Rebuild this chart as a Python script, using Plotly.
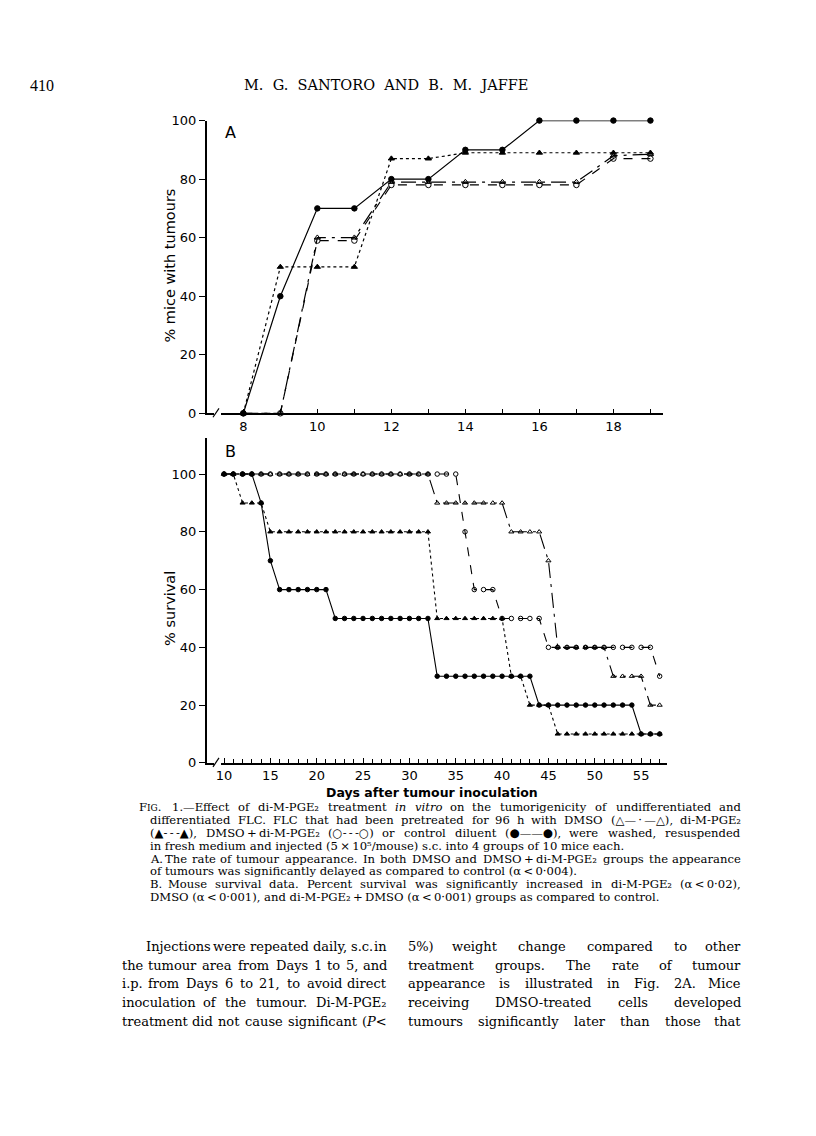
import re
import plotly.graph_objects as go

# screenshot is W x H; the page body adds an 8px margin, so the figure is 16px smaller
W, H = 816, 1136
M = 8

# ---- Panel A: % mice with tumours ----
days_a = [8, 9, 10, 11, 12, 13, 14, 15, 16, 17, 18, 19]
a_control = [0, 40, 70, 70, 80, 80, 90, 90, 100, 100, 100, 100]
a_pge = [0, 50, 50, 50, 87, 87, 89, 89, 89, 89, 89, 89]
a_dmso = [0, 0, 60, 60, 79, 79, 79, 79, 79, 79, 88, 88.5]
a_dmso_pge = [0, 0, 59, 59, 78, 78, 78, 78, 78, 78, 87, 87]
a_xticks = [8, 10, 12, 14, 16, 18]

# ---- Panel B: % survival ----
days_b = [10, 11, 12, 13, 14, 15, 16, 17, 18, 19, 20, 21, 22, 23, 24, 25,
          26, 27, 28, 29, 30, 31, 32, 33, 34, 35, 36, 37, 38, 39, 40, 41,
          42, 43, 44, 45, 46, 47, 48, 49, 50, 51, 52, 53, 54, 55, 56, 57]
b_control = [100, 100, 100, 100, 90, 70, 60, 60, 60, 60, 60, 60,
             50, 50, 50, 50, 50, 50, 50, 50, 50, 50, 50,
             30, 30, 30, 30, 30, 30, 30, 30, 30, 30, 30,
             20, 20, 20, 20, 20, 20, 20, 20, 20, 20, 20,
             10, 10, 10]
b_pge = [100, 100, 90, 90, 90,
         80, 80, 80, 80, 80, 80, 80, 80, 80, 80, 80, 80, 80, 80, 80, 80, 80, 80,
         50, 50, 50, 50, 50, 50, 50, 50,
         30, 30, 20, 20, 20,
         10, 10, 10, 10, 10, 10, 10, 10, 10, 10, 10, 10]
b_dmso = [100, 100, 100, 100, 100, 100, 100, 100, 100, 100, 100, 100,
          100, 100, 100, 100, 100, 100, 100, 100, 100, 100, 100,
          90, 90, 90, 90, 90, 90, 90, 90,
          80, 80, 80, 80, 70,
          40, 40, 40, 40, 40, 40,
          30, 30, 30, 30, 20, 20]
b_dmso_pge = [100, 100, 100, 100, 100, 100, 100, 100, 100, 100, 100, 100, 100,
              100, 100, 100, 100, 100, 100, 100, 100, 100, 100, 100, 100, 100,
              80, 60, 60, 60, 50, 50, 50, 50, 50,
              40, 40, 40, 40, 40, 40, 40, 40, 40, 40, 40, 40, 30]
b_xticks = [10, 15, 20, 25, 30, 35, 40, 45, 50, 55]
y_ticks = [0, 20, 40, 60, 80, 100]

SANS = "DejaVu Sans"
SERIF = "DejaVu Serif"


def px(x):
    return (x - M) / (W - 2 * M)


def py(y):
    return 1 - (y - M) / (H - 2 * M)


series = [
    # name, dash, symbol
    ("DMSO + di-M-PGE2", "dash", "circle-open"),
    ("DMSO", "longdashdot", "triangle-up-open"),
    ("di-M-PGE2", "dot", "triangle-up"),
    ("Control", "solid", "circle"),
]

fig = go.Figure()

for (name, dash, sym), ya in zip(series, [a_dmso_pge, a_dmso, a_pge, a_control]):
    fig.add_trace(go.Scatter(
        x=days_a, y=ya, mode="lines+markers", name=name,
        line=dict(color="black", width=1.2, dash=dash),
        marker=dict(symbol=sym, size=5.5, color="black", line=dict(color="black", width=1)),
        xaxis="x", yaxis="y", cliponaxis=False, showlegend=False))

for (name, dash, sym), yb in zip(series, [b_dmso_pge, b_dmso, b_pge, b_control]):
    fig.add_trace(go.Scatter(
        x=days_b, y=yb, mode="lines+markers", name=name,
        line=dict(color="black", width=1.1, dash=dash),
        marker=dict(symbol=sym, size=4.5, color="black", line=dict(color="black", width=1)),
        xaxis="x2", yaxis="y2", cliponaxis=False, showlegend=False))

axis_common = dict(showgrid=False, zeroline=False, showline=True, linecolor="black",
                   linewidth=1.5, tickcolor="black", tickwidth=1.2,
                   tickfont=dict(family=SANS, size=13, color="black"))

fig.update_layout(
    width=W - 2 * M, height=H - 2 * M,
    margin=dict(l=0, r=0, t=0, b=0),
    paper_bgcolor="white", plot_bgcolor="white",
    xaxis=dict(domain=[px(206.7), px(663)], range=[7.01, 19.34], anchor="y",
               tickmode="array", tickvals=a_xticks, ticks="inside", ticklen=5,
               minor=dict(dtick=1, tick0=8, ticks="inside", ticklen=5,
                          tickcolor="black", tickwidth=1.2),
               **axis_common),
    yaxis=dict(domain=[py(411.7), py(115)], range=[0, 100], anchor="x",
               tickmode="array", tickvals=y_ticks, ticks="outside", ticklen=6,
               **axis_common),
    xaxis2=dict(domain=[px(206.7), px(666.7)], range=[8.13, 57.76], anchor="y2",
                tickmode="array", tickvals=b_xticks, ticks="inside", ticklen=5,
                minor=dict(dtick=1, tick0=10, ticks="inside", ticklen=4,
                           tickcolor="black", tickwidth=1.1),
                **axis_common),
    yaxis2=dict(domain=[py(766), py(436.7)], range=[0, 112.5], anchor="x2",
                tickmode="array", tickvals=y_ticks, ticks="outside", ticklen=6,
                **axis_common),
)

# axis breaks on the x axes
for y0 in (411.7, 766):
    fig.add_shape(type="rect", xref="paper", yref="paper",
                  x0=px(214), x1=px(221), y0=py(y0 + 6), y1=py(y0 - 6),
                  line=dict(width=0), fillcolor="white", layer="above")
    fig.add_shape(type="line", xref="paper", yref="paper",
                  x0=px(213), x1=px(219), y0=py(y0 + 4), y1=py(y0 - 5),
                  line=dict(color="black", width=1.2), layer="above")

ann = []


def text(x, y, s, size, family=SERIF, anchor="left", angle=0):
    ann.append(dict(x=px(x), y=py(y), xref="paper", yref="paper", text=s,
                    showarrow=False, xanchor=anchor, yanchor="middle",
                    textangle=angle, font=dict(family=family, size=size, color="black")))


# rough DejaVu Serif advance widths (em) used to spread words across a column
CW = dict(zip("abcdefghijklmnopqrstuvwxyz",
              [.596, .640, .560, .640, .592, .370, .640, .644, .320, .310, .606, .320, .948,
               .644, .602, .640, .640, .478, .513, .402, .644, .565, .856, .564, .565, .523]))
CW.update(zip("ABCDEFGHIJKLMNOPQRSTUVWXYZ",
              [.722, .735, .765, .802, .730, .694, .799, .872, .395, .401, .747, .664, 1.024,
               .875, .820, .673, .820, .753, .685, .667, .843, .722, 1.028, .712, .660, .695]))
CW.update({c: .636 for c in "0123456789"})
CW.update({" ": .318, ".": .318, ",": .318, ":": .337, ";": .337, "-": .338, "(": .390,
           ")": .390, "—": 1.0, "%": .950, "/": .337, "·": .318, "\u2009": .2, "<": .838,
           "₂": .40, "⁵": .40})


def text_width(s, size):
    s2 = re.sub(r"<[^>]+>", "", s).replace("&lt;", "<")
    return size * 1.03 * sum(CW.get(c, .75) for c in s2)


def justify(line, x0, x1, y, size):
    words = re.split(r" (?![^<]*>)", line)
    widths = [text_width(w, size) for w in words]
    gap = (x1 - x0 - sum(widths)) / (len(words) - 1)
    x = x0
    for i, (w, ww) in enumerate(zip(words, widths)):
        if i == 0:
            text(x, y, w, size)
        elif i == len(words) - 1:
            text(x1, y, w, size, anchor="right")
        else:
            text(x + ww / 2, y, w, size, anchor="center")
        x += ww + gap


# page header
text(28, 79, "410", 16, family="Liberation Serif")
text(242, 79, "M.&nbsp; G.&nbsp; SANTORO&nbsp; AND&nbsp; B.&nbsp; M.&nbsp; JAFFE", 14.5)

# panel labels and axis titles
text(230, 127, "A", 16, family=SANS, anchor="center")
text(230, 450, "B", 16, family=SANS, anchor="center")
text(170, 262, "% mice with tumours", 14.5, family=SANS, anchor="center", angle=-90)
text(170, 610, "% survival", 14.5, family=SANS, anchor="center", angle=-90)
text(432, 796, "<b>Days after tumour inoculation</b>", 12.5, family=SANS, anchor="center")

# caption (x start, justified?, text)
T = "\u2009"
caption = [
    (137, True, "F<span style='font-size:9px'>IG</span>. 1.—Effect of di-M-PGE₂ treatment <i>in</i> <i>vitro</i> on the tumorigenicity of undifferentiated and"),
    (148, True, f"differentiated FLC. FLC that had been pretreated for 96 h with DMSO (△—{T}·{T}—△), di-M-PGE₂"),
    (148, True, f"(▲-{T}-{T}-▲), DMSO{T}+{T}di-M-PGE₂ (○-{T}-{T}-○) or control diluent (●——●), were washed, resuspended"),
    (148, False, f"in fresh medium and injected (5{T}×{T}10⁵/mouse) s.c. into 4 groups of 10 mice each."),
    (148, True, f"A. The rate of tumour appearance. In both DMSO and DMSO{T}+{T}di-M-PGE₂ groups the appearance"),
    (148, False, f"of tumours was significantly delayed as compared to control (α{T}&lt;{T}0·004)."),
    (148, True, f"B. Mouse survival data. Percent survival was significantly increased in di-M-PGE₂ (α{T}&lt;{T}0·02),"),
    (148, False, f"DMSO (α{T}&lt;{T}0·001), and di-M-PGE₂{T}+{T}DMSO (α{T}&lt;{T}0·001) groups as compared to control."),
]
for i, (x0, just, line) in enumerate(caption):
    yy = 811 + 13 * i
    if just:
        justify(line, x0, 743, yy, 11.6)
    else:
        text(x0, yy, line, 11.6)

# body text, two justified columns
left_col = [
    (144, "Injections were repeated daily, s.c. in"),
    (120, "the tumour area from Days 1 to 5, and"),
    (120, "i.p. from Days 6 to 21, to avoid direct"),
    (120, "inoculation of the tumour. Di-M-PGE₂"),
    (120, "treatment did not cause significant (<i>P</i>&lt;"),
]
right_col = [
    "5%) weight change compared to other",
    "treatment groups. The rate of tumour",
    "appearance is illustrated in Fig. 2A. Mice",
    "receiving DMSO-treated cells developed",
    "tumours significantly later than those that",
]
for i, (x0, line) in enumerate(left_col):
    justify(line, x0, 389, 952 + 19 * i, 13)
for i, line in enumerate(right_col):
    justify(line, 406, 743, 952 + 19 * i, 13)

fig.update_layout(annotations=ann)

fig.write_html("out.html")
